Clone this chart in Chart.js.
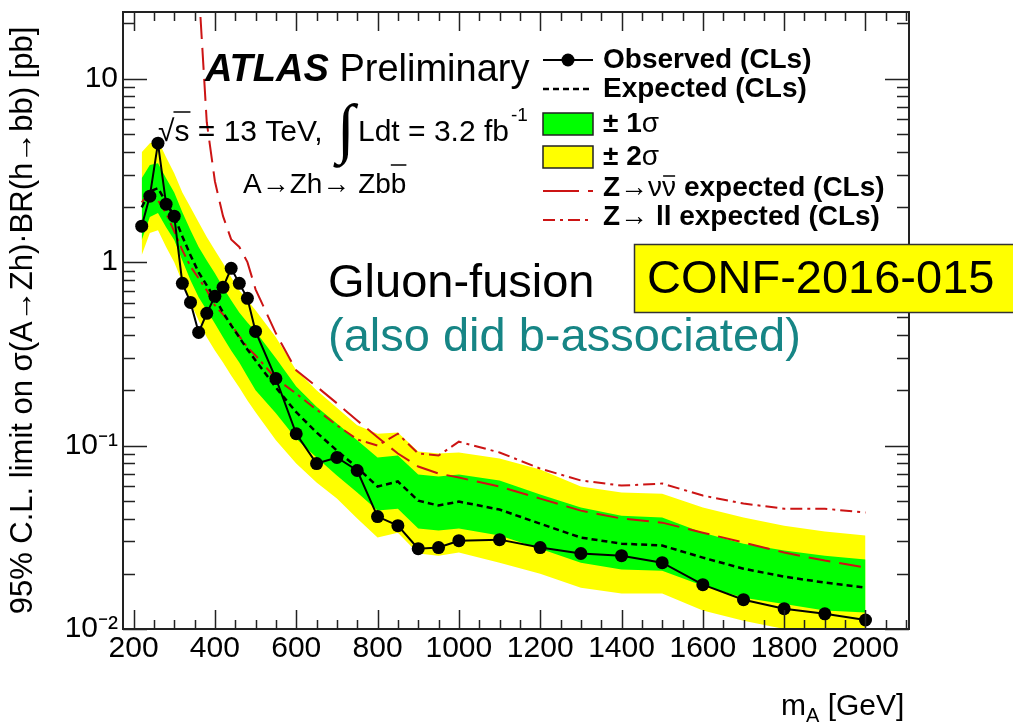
<!DOCTYPE html>
<html lang="en">
<head>
<meta charset="UTF-8">
<title>A to Zh limit, gluon fusion</title>
<script src="https://cdn.jsdelivr.net/npm/chart.js"></script>
<style>
  html, body { margin: 0; padding: 0; background: #fff; }
  #wrap { width: 1013px; height: 725px; }
</style>
</head>
<body>
<div id="wrap"><canvas id="limitChart" width="1013" height="725"></canvas></div>
<script>
// signal mass points (GeV)
const masses = [220, 240, 260, 280, 300, 320, 340, 360, 380, 400, 420, 440, 460, 480, 500,
  550, 600, 650, 700, 750, 800, 850, 900, 950, 1000,
  1100, 1200, 1300, 1400, 1500, 1600, 1700, 1800, 1900, 2000];
// limits in pb
const observed = [1.57, 2.29, 4.45, 2.07, 1.78, 0.766, 0.603, 0.414, 0.526, 0.651, 0.729, 0.925, 0.766, 0.635, 0.419,
  0.232, 0.116, 0.0798, 0.0861, 0.0731, 0.0410, 0.0366, 0.0274, 0.0278, 0.0303,
  0.0307, 0.0278, 0.0258, 0.0251, 0.0230, 0.01745, 0.01445, 0.0129, 0.0121, 0.0112];
const expected = [1.99, 2.43, 2.53, 2.12, 1.78, 1.38, 1.09, 0.880, 0.747, 0.635, 0.532, 0.452, 0.389, 0.334, 0.291,
  0.207, 0.152, 0.118, 0.0939, 0.0759, 0.0598, 0.0637, 0.0501, 0.0471, 0.0495,
  0.0448, 0.0375, 0.0315, 0.0292, 0.0285, 0.0245, 0.0213, 0.0193, 0.0179, 0.0168];
const band1Up = [2.87, 3.38, 3.46, 2.87, 2.40, 1.87, 1.49, 1.21, 1.02, 0.869, 0.729, 0.619, 0.532, 0.469, 0.419,
  0.299, 0.210, 0.163, 0.132, 0.107, 0.0861, 0.0882, 0.0695, 0.0678, 0.0695,
  0.0645, 0.0541, 0.0459, 0.0415, 0.0405, 0.0335, 0.0292, 0.0268, 0.0251, 0.0239];
const band1Down = [1.32, 1.76, 1.85, 1.55, 1.32, 1.02, 0.796, 0.643, 0.546, 0.463, 0.389, 0.330, 0.284, 0.238, 0.200,
  0.150, 0.109, 0.0861, 0.0687, 0.0554, 0.0442, 0.0453, 0.0353, 0.0344, 0.0353,
  0.0323, 0.0274, 0.0230, 0.0211, 0.0208, 0.0172, 0.0148, 0.0137, 0.0126, 0.0123];
const band2Up = [3.97, 4.45, 4.62, 3.73, 3.05, 2.40, 1.99, 1.65, 1.37, 1.16, 0.985, 0.826, 0.702, 0.619, 0.546,
  0.389, 0.257, 0.200, 0.161, 0.129, 0.116, 0.118, 0.0928, 0.0905, 0.0917,
  0.0850, 0.0740, 0.0598, 0.0554, 0.0547, 0.0459, 0.0405, 0.0366, 0.0340, 0.0323];
const band2Down = [1.09, 1.44, 1.49, 1.21, 1.00, 0.776, 0.603, 0.481, 0.389, 0.330, 0.284, 0.241, 0.207, 0.176, 0.152,
  0.107, 0.0798, 0.0629, 0.0514, 0.0400, 0.0315, 0.0335, 0.0258, 0.0251, 0.0261,
  0.0230, 0.0200, 0.0168, 0.0156, 0.0156, 0.0126, 0.0111, 0.0100, 0.0091, 0.0085];
const zllExpected = [2.12, 2.40, 2.17, 1.85, 1.47, 1.16, 0.949, 0.816, 0.702, 0.581, 0.519, 0.458, 0.394, 0.343, 0.310,
  0.232, 0.192, 0.157, 0.129, 0.108, 0.100, 0.116, 0.0905, 0.0882, 0.105,
  0.0917, 0.0749, 0.0645, 0.0605, 0.0621, 0.0534, 0.0483, 0.0453, 0.0453, 0.0431];
const znnMasses = [360, 380, 400, 420, 440, 460, 480, 500, 550, 600, 650, 700, 750, 800, 850, 900, 950, 1000,
  1100, 1200, 1300, 1400, 1500, 1600, 1700, 1800, 1900, 2000];
const znnExpected = [32, 5.79, 2.76, 1.78, 1.33, 1.21, 1.00, 0.711, 0.409, 0.257, 0.210, 0.170, 0.137, 0.111, 0.0905, 0.0769, 0.0704, 0.0669,
  0.0598, 0.0514, 0.0442, 0.0400, 0.0380, 0.0335, 0.0296, 0.0261, 0.0236, 0.0216];

const xTicks = [200, 400, 600, 800, 1000, 1200, 1400, 1600, 1800, 2000];
const yTicks = [0.01, 0.1, 1, 10];
const yTickLabels = ['10\u207B\u00B2', '10\u207B\u00B9', '1', '10'];

const SANS = "'Liberation Sans', Arial, Helvetica, sans-serif";
const RED = '#cc1414';
const GREEN = '#00ff00';
const YELLOW = '#ffff00';

function pts(xs, ys) {
  return xs.map((x, i) => ({ x: x, y: ys[i] }));
}

function line(ctx, x0, y0, x1, y1, color, width, dash) {
  ctx.save();
  ctx.strokeStyle = color;
  ctx.lineWidth = width;
  ctx.setLineDash(dash);
  ctx.beginPath();
  ctx.moveTo(x0, y0);
  ctx.lineTo(x1, y1);
  ctx.stroke();
  ctx.restore();
}

// draws text pieces one after another, returns end x of each piece
function runs(ctx, parts, x, y) {
  const ends = [];
  parts.forEach(p => {
    ctx.font = p.font;
    ctx.fillText(p.t, x, y + (p.dy || 0));
    x += ctx.measureText(p.t).width;
    ends.push(x);
  });
  return ends;
}

// ROOT-style frame, inner ticks and all the text on the pad
const rootPad = {
  id: 'rootPad',
  afterDatasetsDraw(chart) {
    const ctx = chart.ctx;
    const a = chart.chartArea;
    const xs = chart.scales.x, ys = chart.scales.y;
    ctx.save();
    ctx.strokeStyle = '#222';
    ctx.lineWidth = 1.5;
    ctx.beginPath();
    for (let m = 200; m <= xs.max; m += 50) {
      const px = Math.round(xs.getPixelForValue(m)) + 0.5;
      const len = xTicks.includes(m) ? 19 : 9;
      ctx.moveTo(px, a.bottom); ctx.lineTo(px, a.bottom - len);
      ctx.moveTo(px, a.top); ctx.lineTo(px, a.top + len);
    }
    yTicks.forEach(d => {
      for (let k = 1; k <= 9; k++) {
        const v = d * k;
        if (v > ys.max) break;
        const py = Math.round(ys.getPixelForValue(v)) + 0.5;
        const len = k === 1 ? 24 : 12;
        ctx.moveTo(a.left, py); ctx.lineTo(a.left + len, py);
        ctx.moveTo(a.right, py); ctx.lineTo(a.right - len, py);
      }
    });
    ctx.stroke();
    ctx.lineWidth = 2;
    ctx.strokeRect(a.left, a.top, a.right - a.left, a.bottom - a.top);
    ctx.restore();
  },
  afterDraw(chart) {
    const ctx = chart.ctx;
    ctx.save();
    ctx.fillStyle = '#000';
    ctx.textBaseline = 'alphabetic';
    ctx.textAlign = 'left';

    // ATLAS Preliminary
    runs(ctx, [
      { t: 'ATLAS', font: 'italic bold 38px ' + SANS },
      { t: ' Preliminary', font: '38px ' + SANS }
    ], 205, 81);

    // sqrt(s) = 13 TeV, int L dt = 3.2 fb-1
    ctx.font = '30px ' + SANS;
    ctx.fillText('\u221A', 158, 141);
    const sx = 158 + ctx.measureText('\u221A').width;
    ctx.fillText('s', sx, 141);
    const sw = ctx.measureText('s').width;
    line(ctx, sx - 1, 112, sx + sw + 1, 112, '#000', 1.5, []);
    ctx.fillText(' = 13 TeV,', sx + sw, 141);
    ctx.font = "66px 'Liberation Serif', 'DejaVu Serif', serif";
    ctx.fillText('\u222B', 337, 150);
    ctx.font = '30px ' + SANS;
    ctx.fillText('Ldt = 3.2 fb', 358, 141);
    const fbEnd = 358 + ctx.measureText('Ldt = 3.2 fb').width;
    ctx.font = '19px ' + SANS;
    ctx.fillText('-1', fbEnd + 2, 121);

    // A -> Zh -> Zbb
    const abEnds = runs(ctx, [
      { t: 'A\u2192Zh\u2192 Zb', font: '28px ' + SANS },
      { t: 'b', font: '28px ' + SANS }
    ], 243, 193);
    ctx.font = '28px ' + SANS;
    const bw = ctx.measureText('b').width;
    line(ctx, abEnds[1] - bw, 165, abEnds[1], 165, '#000', 1.5, []);

    // legend
    const lx0 = 543, lx1 = 593, tx = 603;
    ctx.textBaseline = 'middle';
    line(ctx, lx0, 60, lx1, 60, '#000', 2, []);
    ctx.beginPath(); ctx.arc(568, 60, 6.5, 0, Math.PI * 2); ctx.fill();
    ctx.font = 'bold 28px ' + SANS;
    ctx.fillText('Observed (CLs)', tx, 60);
    line(ctx, lx0, 89, lx1, 89, '#000', 2.5, [6, 4]);
    ctx.fillText('Expected (CLs)', tx, 89);
    ctx.lineWidth = 1.5; ctx.strokeStyle = '#222';
    ctx.fillStyle = GREEN; ctx.fillRect(lx0, 113, 50, 22); ctx.strokeRect(lx0, 113, 50, 22);
    ctx.fillStyle = YELLOW; ctx.fillRect(lx0, 146, 50, 22); ctx.strokeRect(lx0, 146, 50, 22);
    ctx.fillStyle = '#000';
    runs(ctx, [{ t: '\u00B1 1', font: 'bold 28px ' + SANS }, { t: '\u03C3', font: '28px ' + SANS }], tx, 124);
    runs(ctx, [{ t: '\u00B1 2', font: 'bold 28px ' + SANS }, { t: '\u03C3', font: '28px ' + SANS }], tx, 157);
    line(ctx, lx0, 191, lx1, 191, RED, 2, [36, 9]);
    const nuEnds = runs(ctx, [
      { t: 'Z', font: 'bold 28px ' + SANS },
      { t: '\u2192\u03BD\u03BD', font: '28px ' + SANS },
      { t: ' expected (CLs)', font: 'bold 28px ' + SANS }
    ], tx, 188);
    ctx.font = '28px ' + SANS;
    const nuW = ctx.measureText('\u03BD').width;
    line(ctx, nuEnds[1] - nuW + 1, 176, nuEnds[1] - 1, 176, '#000', 1.5, []);
    line(ctx, lx0, 220, lx1, 220, RED, 2, [12, 5, 3, 5]);
    runs(ctx, [
      { t: 'Z', font: 'bold 28px ' + SANS },
      { t: '\u2192', font: '28px ' + SANS },
      { t: ' ll expected (CLs)', font: 'bold 28px ' + SANS }
    ], tx, 217);

    // slide annotations
    ctx.font = '47px ' + SANS;
    ctx.fillStyle = '#000';
    ctx.fillText('Gluon-fusion', 328, 284);
    ctx.fillStyle = '#168585';
    ctx.fillText('(also did b-associated)', 328, 338);
    ctx.fillStyle = YELLOW;
    ctx.fillRect(634, 244, 400, 69);
    ctx.strokeStyle = '#333'; ctx.lineWidth = 1.5;
    ctx.strokeRect(634.5, 244.5, 400, 68);
    ctx.fillStyle = '#000';
    ctx.fillText('CONF-2016-015', 647, 280);

    // x axis title m_A [GeV]
    ctx.textBaseline = 'alphabetic';
    runs(ctx, [
      { t: 'm', font: '30px ' + SANS },
      { t: 'A', font: '20px ' + SANS, dy: 7 },
      { t: ' [GeV]', font: '30px ' + SANS }
    ], 781, 715);
    ctx.restore();
  }
};

new Chart(document.getElementById('limitChart'), {
  type: 'line',
  data: {
    datasets: [
      { label: 'Observed (CLs)', data: pts(masses, observed), borderColor: '#000', backgroundColor: '#000',
        borderWidth: 2, pointRadius: 6.5, pointBorderWidth: 0, pointBackgroundColor: '#000', fill: false, order: 0 },
      { label: 'Expected (CLs)', data: pts(masses, expected), borderColor: '#000', borderWidth: 2.5,
        borderDash: [6, 4], pointRadius: 0, fill: false, order: 1 },
      { label: 'Z\u2192\u03BD\u03BD expected (CLs)', data: pts(znnMasses, znnExpected), borderColor: RED, borderWidth: 2,
        borderDash: [22, 9], pointRadius: 0, fill: false, order: 2 },
      { label: 'Z\u2192 ll expected (CLs)', data: pts(masses, zllExpected), borderColor: RED, borderWidth: 2,
        borderDash: [12, 5, 3, 5], pointRadius: 0, fill: false, order: 3 },
      { label: '\u00B1 1\u03C3', data: pts(masses, band1Up), borderWidth: 0, borderColor: 'rgba(0,0,0,0)',
        backgroundColor: GREEN, pointRadius: 0, fill: '+1', order: 4 },
      { label: '-1 sigma', data: pts(masses, band1Down), borderWidth: 0, borderColor: 'rgba(0,0,0,0)',
        pointRadius: 0, fill: false, order: 5 },
      { label: '\u00B1 2\u03C3', data: pts(masses, band2Up), borderWidth: 0, borderColor: 'rgba(0,0,0,0)',
        backgroundColor: YELLOW, pointRadius: 0, fill: '+1', order: 6 },
      { label: '-2 sigma', data: pts(masses, band2Down), borderWidth: 0, borderColor: 'rgba(0,0,0,0)',
        pointRadius: 0, fill: false, order: 7 }
    ]
  },
  options: {
    responsive: false,
    animation: false,
    devicePixelRatio: 1,
    layout: { padding: { top: 12, right: 104, left: 0, bottom: 0 } },
    elements: { line: { tension: 0 } },
    plugins: { legend: { display: false }, tooltip: { enabled: false } },
    scales: {
      x: {
        type: 'linear',
        min: 174,
        max: 2107,
        grid: { display: false, drawTicks: false },
        border: { display: false },
        afterBuildTicks: s => { s.ticks = xTicks.map(v => ({ value: v })); },
        afterFit: s => { s.height = 96; s.paddingLeft = 0; s.paddingRight = 0; },
        ticks: {
          padding: 2,
          color: '#000',
          maxRotation: 0,
          autoSkip: false,
          font: { family: SANS, size: 30 },
          callback: v => String(v)
        }
      },
      y: {
        type: 'logarithmic',
        min: 0.01,
        max: 23.1,
        grid: { display: false, drawTicks: false },
        border: { display: false },
        afterBuildTicks: s => { s.ticks = yTicks.map(v => ({ value: v })); },
        afterFit: s => { s.width = 123; s.paddingTop = 0; s.paddingBottom = 0; },
        title: {
          display: true,
          text: '95% C.L. limit on \u03C3(A\u2192Zh)\u00B7BR(h\u2192bb) [pb]',
          color: '#000',
          font: { family: SANS, size: 31 },
          padding: { top: 5, bottom: 0 }
        },
        ticks: {
          padding: 5,
          color: '#000',
          autoSkip: false,
          font: { family: SANS, size: 30 },
          callback: v => yTickLabels[yTicks.indexOf(v)] || ''
        }
      }
    }
  },
  plugins: [rootPad]
});
</script>
</body>
</html>
